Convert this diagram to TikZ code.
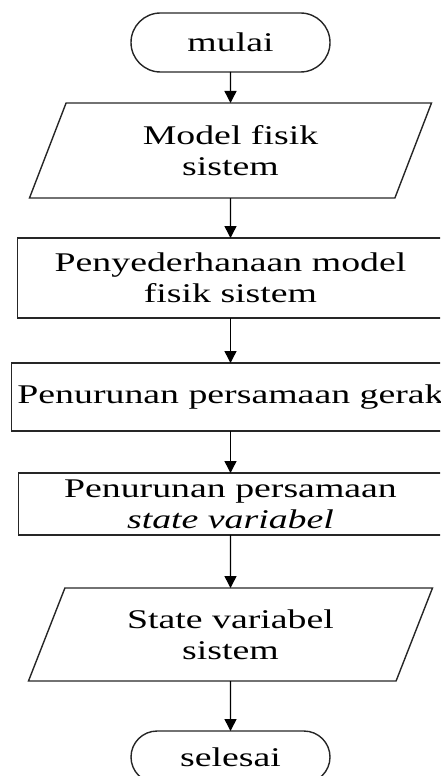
\documentclass[tikz,border=0pt]{standalone}
\usepackage{fontspec}
\setmainfont{Liberation Serif}[FakeStretch=1.4]
\usetikzlibrary{positioning,shapes.geometric,shapes.misc,arrows.meta}

\begin{document}
\begin{tikzpicture}[
  x=1pt, y=1pt,
  node distance=40pt,
  font=\fontsize{27}{31}\selectfont,
  every node/.style={outer sep=0pt},
  term/.style={draw=black!85, line width=1.4pt, rounded rectangle, minimum width=199pt, minimum height=59pt, inner sep=0pt},
  proc/.style={draw=black!85, line width=1.4pt, rectangle, align=center, inner sep=2pt},
  data/.style={draw=black!85, line width=1.4pt, trapezium, trapezium left angle=55, trapezium right angle=125, trapezium stretches body, align=center, inner sep=1pt},
  arr/.style={-{Triangle[width=12pt,length=12pt]}, line width=1.4pt}
]
  \useasboundingbox (0,0) rectangle (440,776);
  \clip (0,0) rectangle (440,776);

  \node[term] (mulai) at (230.5,733.5) {mulai};
  \node[data, minimum width=402pt, minimum height=95pt, below=31pt of mulai] (model) {Model fisik\\sistem};
  \node[proc, minimum width=426pt, minimum height=80pt, below=40pt of model] (sederhana) {Penyederhanaan model\\fisik sistem};
  \node[proc, minimum width=438pt, minimum height=68pt, below=45pt of sederhana] (gerak) {Penurunan persamaan gerak};
  \node[proc, minimum width=424pt, minimum height=62pt, below=42pt of gerak] (statevar) {Penurunan persamaan\\\textit{state variabel}};
  \node[data, minimum width=404pt, minimum height=93pt, below=53pt of statevar] (hasil) {State variabel\\sistem};
  \node[term, minimum height=52pt, below=50pt of hasil] (selesai) {selesai};

  \draw[arr] (mulai) -- (model);
  \draw[arr] (model) -- (sederhana);
  \draw[arr] (sederhana) -- (gerak);
  \draw[arr] (gerak) -- (statevar);
  \draw[arr] (statevar) -- (hasil);
  \draw[arr] (hasil) -- (selesai);
\end{tikzpicture}
\end{document}
